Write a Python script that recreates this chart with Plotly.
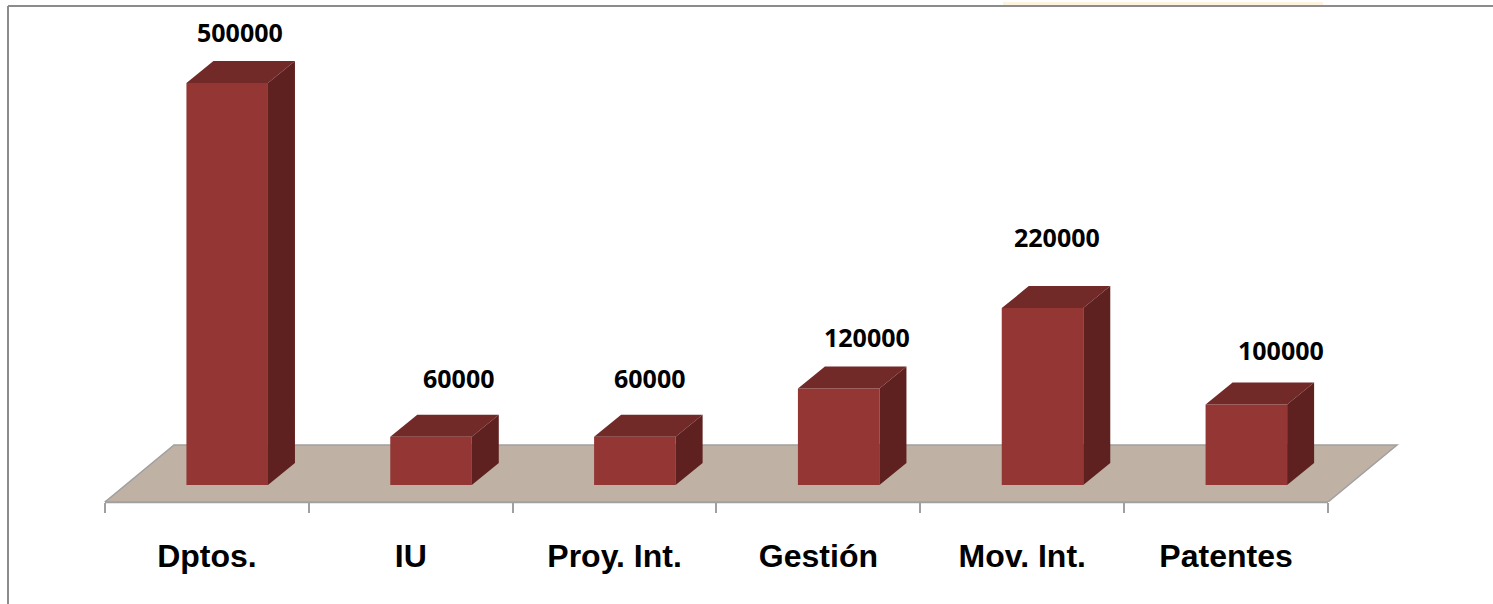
import plotly.graph_objects as go

# --- data -------------------------------------------------------------
categories = ["Dptos.", "IU", "Proy. Int.", "Gestión", "Mov. Int.", "Patentes"]
values = [500000, 60000, 60000, 120000, 220000, 100000]
# hand-placed data labels: pixel offset from the top-centre of each bar's front face
label_dx = [13, 27.5, 14.5, 28, 14, 35]
label_dy = [51, 59, 59, 52, 71, 54.5]

# --- geometry / scale ---------------------------------------------------
W, H = 1493, 604
PX_PER_CAT = 203.83
PX_PER_VAL = 402 / 500000
AX_LEFT_PX = 105      # pixel of x = -0.5
BASE_PX = 485         # pixel of value 0 (front of the bars)
FLOOR_FRONT_PX = 502  # pixel of floor front edge (x axis)
FLOOR_BACK_PX = 445

xr = [-0.5 - AX_LEFT_PX / PX_PER_CAT, -0.5 + (W - AX_LEFT_PX) / PX_PER_CAT]
yr = [-(FLOOR_FRONT_PX - BASE_PX) / PX_PER_VAL, BASE_PX / PX_PER_VAL]

BAR_SHIFT = 0.0995
BAR_W = 0.40
DEPTH_X = 27 / PX_PER_CAT
DEPTH_Y = 22 / PX_PER_VAL
FLOOR_DX = 69 / PX_PER_CAT

FRONT = "#943634"
TOP = "#722A28"
SIDE = "#5F2120"
FLOOR = "#BFB2A5"
GREY = "#A0A0A0"
FRAME = "#8C8C8C"


def py(pixel):
    """Paper y coordinate (paper spans the plot area) of a pixel row."""
    return 1 - pixel / FLOOR_FRONT_PX


idx = list(range(len(categories)))
centers = [i + BAR_SHIFT for i in idx]

top_x, top_y, side_x, side_y = [], [], [], []
for c, v in zip(centers, values):
    l, r = c - BAR_W / 2, c + BAR_W / 2
    top_x += [l, r, r + DEPTH_X, l + DEPTH_X, l, None]
    top_y += [v, v, v + DEPTH_Y, v + DEPTH_Y, v, None]
    side_x += [r, r + DEPTH_X, r + DEPTH_X, r, r, None]
    side_y += [0, DEPTH_Y, v + DEPTH_Y, v, 0, None]

fig = go.Figure()
fig.add_trace(go.Bar(x=centers, y=values, width=BAR_W, marker=dict(color=FRONT, line=dict(width=0)),
                     hoverinfo="skip", showlegend=False))
fig.add_trace(go.Scatter(x=top_x, y=top_y, mode="lines", fill="toself", fillcolor=TOP,
                         line=dict(width=0, color=TOP), hoverinfo="skip", showlegend=False))
fig.add_trace(go.Scatter(x=side_x, y=side_y, mode="lines", fill="toself", fillcolor=SIDE,
                         line=dict(width=0, color=SIDE), hoverinfo="skip", showlegend=False))

y_front = yr[0]
y_back = (BASE_PX - FLOOR_BACK_PX) / PX_PER_VAL
x0, x1 = -0.5, len(categories) - 0.5
floor_path = (f"M {x0},{y_front} L {x1},{y_front} L {x1 + FLOOR_DX},{y_back} "
              f"L {x0 + FLOOR_DX},{y_back} Z")

shapes = [
    dict(type="path", path=floor_path, xref="x", yref="y", layer="below",
         fillcolor=FLOOR, line=dict(color=GREY, width=1.5)),
    # front edge of the floor (heavier)
    dict(type="line", xref="x", yref="paper", x0=x0, x1=x1, y0=0, y1=0,
         layer="below", line=dict(color=GREY, width=2.5)),
    # outer chart frame
    dict(type="line", xref="paper", yref="paper", x0=8 / W, x1=8 / W, y0=py(H), y1=py(6),
         line=dict(color=FRAME, width=2)),
    dict(type="line", xref="paper", yref="paper", x0=8 / W, x1=1, y0=py(6), y1=py(6),
         line=dict(color=FRAME, width=2)),
    # sliver of a cream box above the frame
    dict(type="rect", xref="paper", yref="paper", x0=1003 / W, x1=1323 / W, y0=py(5), y1=py(2),
         fillcolor="#FDF3DF", line=dict(width=0)),
]

annotations = [
    dict(x=c, y=v, xref="x", yref="y", text=str(v), showarrow=False, xanchor="center", yanchor="middle",
         xshift=dx, yshift=dy, font=dict(family="Open Sans", size=25, color="black", weight="bold"))
    for c, v, dx, dy in zip(centers, values, label_dx, label_dy)
]

fig.update_layout(
    width=W, height=H, autosize=False,
    margin=dict(l=0, r=0, t=0, b=H - FLOOR_FRONT_PX, pad=0),
    paper_bgcolor="white", plot_bgcolor="rgba(0,0,0,0)",
    showlegend=False, shapes=shapes, annotations=annotations,
    xaxis=dict(range=xr, tickmode="array", tickvals=idx, ticktext=categories, ticks="",
               showgrid=False, zeroline=False, showline=False, ticklabelstandoff=32,
               tickfont=dict(family="Liberation Sans", size=32, color="black", weight="bold"),
               minor=dict(tickmode="array", tickvals=[i - 0.5 for i in range(len(categories) + 1)],
                          ticks="outside", ticklen=10, tickwidth=1.5, tickcolor=GREY, showgrid=False)),
    yaxis=dict(range=yr, visible=False, showgrid=False, zeroline=False),
)

fig.write_html("out.html", config=dict(displayModeBar=False),
               post_script="document.body.style.margin='0';document.body.style.overflow='hidden';")
